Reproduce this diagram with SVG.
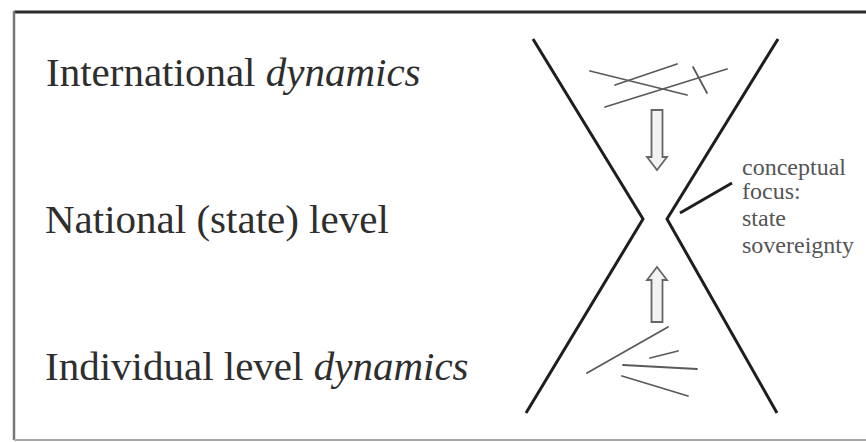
<svg xmlns="http://www.w3.org/2000/svg" width="866" height="442" viewBox="0 0 866 442">
<style>
.lbl{font-family:"Liberation Serif","Times New Roman",serif;font-size:41px;fill:#2e2e2e}
.it{font-style:italic}
.note{font-family:"Liberation Serif","Times New Roman",serif;font-size:24px;fill:#555}
.x{fill:none;stroke:#1e1e1e;stroke-width:3;stroke-linejoin:miter}
.scr{fill:none;stroke:#5a5a5a;stroke-width:1.8;stroke-linecap:round}
.arr{fill:#f2f2f2;stroke:#666;stroke-width:1.8;stroke-linejoin:miter}
</style>
<rect x="0" y="0" width="866" height="442" fill="#fff"/>
<g id="frame">
<line x1="14" y1="12" x2="866" y2="12" stroke="#2a2a2a" stroke-width="3"/>
<line x1="14" y1="11" x2="14" y2="440" stroke="#777" stroke-width="2.5"/>
<line x1="14" y1="440" x2="866" y2="440" stroke="#aaa" stroke-width="2"/>
</g>
<g id="labels">
<g id="international"><text class="lbl" x="46" y="86">International <tspan class="it">dynamics</tspan></text></g>
<g id="national"><text class="lbl" x="45" y="233">National (state) level</text></g>
<g id="individual"><text class="lbl" x="45" y="380">Individual level <tspan class="it">dynamics</tspan></text></g>
</g>
<g id="hourglass">
<polyline class="x" points="533,39 643,219 526,413"/>
<polyline class="x" points="778,39 667,219 777,413"/>
</g>
<g id="intl-scribble">
<line class="scr" x1="590" y1="71" x2="687" y2="95"/>
<line class="scr" x1="615" y1="85" x2="677" y2="64"/>
<line class="scr" x1="605" y1="107" x2="727" y2="69"/>
<line class="scr" x1="693" y1="67" x2="707" y2="93"/>
</g>
<g id="indiv-scribble">
<line class="scr" x1="587" y1="373" x2="668" y2="327"/>
<line class="scr" x1="650" y1="358" x2="678" y2="351"/>
<line class="scr" x1="623" y1="365" x2="697" y2="369"/>
<line class="scr" x1="622" y1="376" x2="688" y2="396"/>
</g>
<g id="connectors">
<polygon class="arr" points="651.5,110 662.5,110 662.5,157 667,157 657,170 647,157 651.5,157"/>
<polygon class="arr" points="651.5,322 662.5,322 662.5,280 667,280 657,267 647,280 651.5,280"/>
<line x1="680" y1="213" x2="732" y2="183" stroke="#1e1e1e" stroke-width="3"/>
</g>
<g id="focus-note">
<text class="note" x="742" y="175">conceptual</text>
<text class="note" x="742" y="199">focus:</text>
<text class="note" x="742" y="226">state</text>
<text class="note" x="742" y="253">sovereignty</text>
</g>
</svg>
